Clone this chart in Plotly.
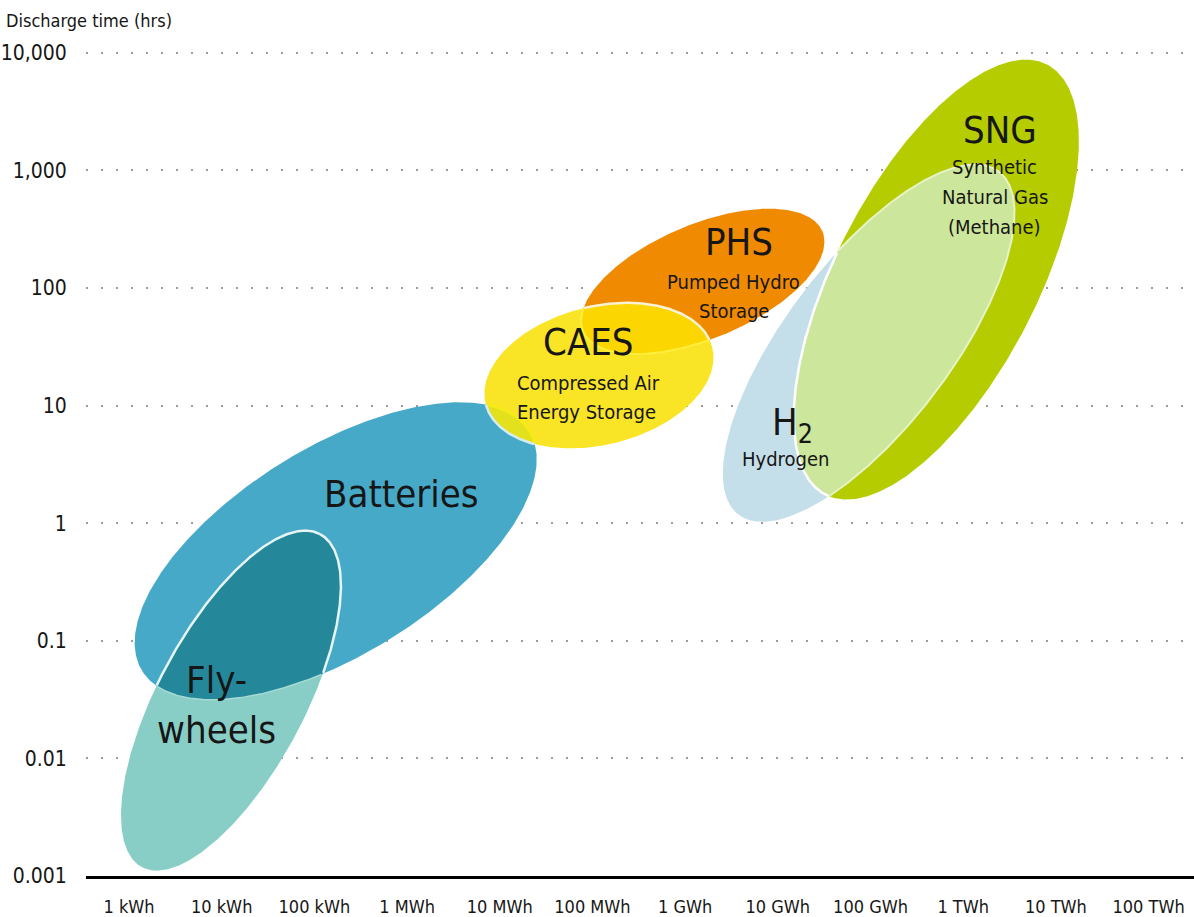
import numpy as np
import plotly.graph_objects as go

# ---- axis categories and ticks ----
energy_labels = ["1 kWh", "10 kWh", "100 kWh", "1 MWh", "10 MWh", "100 MWh",
                 "1 GWh", "10 GWh", "100 GWh", "1 TWh", "10 TWh", "100 TWh"]
hour_ticks = [0.001, 0.01, 0.1, 1, 10, 100, 1000, 10000]
hour_tick_text = ["0.001", "0.01", "0.1", "1", "10", "100", "1,000", "10,000"]

# ---- storage technology envelopes ----
# centre: energy (decade index on the category axis) and discharge time (hours)
# half-axes measured in energy decades, tilt in degrees on screen
tech_names = ["Batteries", "Flywheels", "PHS", "CAES", "H2", "SNG"]
centre_energy = [2.23, 1.10, 6.19, 5.07, 7.98, 8.71]
centre_hours = [0.58, 0.031, 114.0, 18.0, 34.0, 118.0]
half_major = [2.46, 2.045, 1.40, 1.26, 2.33, 2.62]
half_minor = [1.12, 0.79, 0.62, 0.75, 0.895, 1.09]
tilt_deg = [32.0, 62.0, 22.8, 14.0, 53.0, 62.9]

# ---- layout geometry ----
W, H = 1194, 917
M_L, M_R, M_T, M_B = 86, 0, 47, 37
X_RANGE = [-0.464, 11.49]
Y_RANGE = [-3.0, 4.05]
PLOT_W = W - M_L - M_R
PLOT_H = H - M_T - M_B
ASPECT = (PLOT_H / (Y_RANGE[1] - Y_RANGE[0])) / (PLOT_W / (X_RANGE[1] - X_RANGE[0]))

FONT = "DejaVu Sans Condensed, Liberation Sans Narrow, sans-serif"
TEXT = "#161616"
BIG, SMALL = 38, 20

idx = {n: i for i, n in enumerate(tech_names)}


def params(name):
    k = idx[name]
    return (centre_energy[k], np.log10(centre_hours[k]) * ASPECT,
            half_major[k], half_minor[k], np.radians(tilt_deg[k]))


def outline(name, n=721):
    cx, cw, a, b, th = params(name)
    t = np.linspace(0, 2 * np.pi, n)
    u = a * np.cos(t) * np.cos(th) - b * np.sin(t) * np.sin(th)
    w = a * np.cos(t) * np.sin(th) + b * np.sin(t) * np.cos(th)
    return cx + u, cw + w


def inside(name, x, w):
    cx, cw, a, b, th = params(name)
    u, v = x - cx, w - cw
    p = u * np.cos(th) + v * np.sin(th)
    q = -u * np.sin(th) + v * np.cos(th)
    return (p / a) ** 2 + (q / b) ** 2 <= 1.0


def overlap(n1, n2):
    x1, w1 = outline(n1)
    x2, w2 = outline(n2)
    m1 = inside(n2, x1, w1)
    m2 = inside(n1, x2, w2)
    xs = np.concatenate([x1[m1], x2[m2]])
    ws = np.concatenate([w1[m1], w2[m2]])
    ang = np.arctan2(ws - ws.mean(), xs - xs.mean())
    o = np.argsort(ang)
    xs, ws = xs[o], ws[o]
    return np.append(xs, xs[0]), np.append(ws, ws[0])


def to_hours(w):
    return 10 ** (np.asarray(w) / ASPECT)


fig = go.Figure()


def area(x, w, color):
    fig.add_trace(go.Scatter(x=x, y=to_hours(w), mode="lines", fill="toself",
                             fillcolor=color, line=dict(width=0),
                             hoverinfo="skip", showlegend=False))


def edge(name, within, color, width):
    x, w = outline(name)
    m = inside(within, x, w)
    xs = np.where(m, x, np.nan)
    ys = np.where(m, to_hours(w), np.nan)
    fig.add_trace(go.Scatter(x=xs, y=ys, mode="lines",
                             line=dict(color=color, width=width),
                             connectgaps=False, hoverinfo="skip", showlegend=False))


# fills
area(*outline("Batteries"), "#46A9C8")
area(*outline("Flywheels"), "#89CEC6")
area(*overlap("Flywheels", "Batteries"), "#24889A")
area(*outline("PHS"), "#F08A00")
area(*outline("CAES"), "#F9E426")
area(*overlap("CAES", "PHS"), "#FCD600")
area(*overlap("CAES", "Batteries"), "#E3E01E")
area(*outline("H2"), "#C5DFEA")
area(*outline("SNG"), "#B5CC00")
area(*overlap("H2", "SNG"), "#CCE69B")

# boundaries inside neighbouring envelopes
edge("Batteries", "Flywheels", "#A6DAD5", 1.5)
edge("Flywheels", "Batteries", "#E6F4F4", 2.5)
edge("PHS", "CAES", "#FFEF3C", 2)
edge("CAES", "PHS", "#FBF2D6", 2.5)
edge("Batteries", "CAES", "#F3EE12", 2)
edge("CAES", "Batteries", "#D6ECF2", 2.5)
edge("H2", "SNG", "#E7F3C6", 2)
edge("SNG", "H2", "#FFFFFF", 2.5)

# ---- labels ----
labels = [
    ("Batteries", 2.945, 0.25, BIG),
    ("Fly-", 0.949, -1.334, BIG),
    ("wheels", 0.949, -1.758, BIG),
    ("CAES", 4.962, 1.544, BIG),
    ("Compressed Air", 4.952, 1.189, SMALL),
    ("Energy Storage", 4.941, 0.943, SMALL),
    ("PHS", 6.58, 2.391, BIG),
    ("Pumped Hydro", 6.526, 2.052, SMALL),
    ("Storage", 6.526, 1.807, SMALL),
    ("H<sub>2</sub>", 7.16, 0.84, BIG),
    ("Hydrogen", 7.087, 0.545, SMALL),
    ("SNG", 9.396, 3.348, BIG),
    ("Synthetic", 9.342, 3.026, SMALL),
    ("Natural Gas", 9.342, 2.772, SMALL),
    ("(Methane)", 9.342, 2.518, SMALL),
]
annotations = [
    dict(x=x, y=y, xref="x", yref="y", text=t, showarrow=False,
         xanchor="center", yanchor="middle",
         font=dict(family=FONT, size=s, color=TEXT))
    for t, x, y, s in labels
]
annotations.append(dict(x=0, y=1, xref="paper", yref="paper",
                        text="Discharge time (hrs)", showarrow=False,
                        xanchor="left", yanchor="middle", xshift=-82, yshift=27,
                        font=dict(family=FONT, size=18, color=TEXT)))

fig.update_layout(
    width=W, height=H, autosize=False,
    margin=dict(l=M_L, r=M_R, t=M_T, b=M_B, pad=0),
    paper_bgcolor="white", plot_bgcolor="white",
    showlegend=False,
    annotations=annotations,
    xaxis=dict(range=X_RANGE, tickmode="array", tickvals=list(range(len(energy_labels))),
               ticktext=energy_labels, showgrid=False, zeroline=False,
               showline=True, linecolor="#000000", linewidth=3,
               ticks="outside", ticklen=12, tickcolor="rgba(0,0,0,0)",
               tickfont=dict(family=FONT, size=18, color=TEXT), fixedrange=True),
    yaxis=dict(type="log", range=Y_RANGE, tickmode="array", tickvals=hour_ticks,
               ticktext=hour_tick_text, showgrid=True, gridcolor="#9C9C9C",
               gridwidth=2, griddash="2px,13px", zeroline=False, showline=False,
               ticks="outside", ticklen=14, tickcolor="rgba(0,0,0,0)",
               tickfont=dict(family=FONT, size=21, color=TEXT),
               layer="above traces", fixedrange=True),
)

fig.write_html("out.html")
